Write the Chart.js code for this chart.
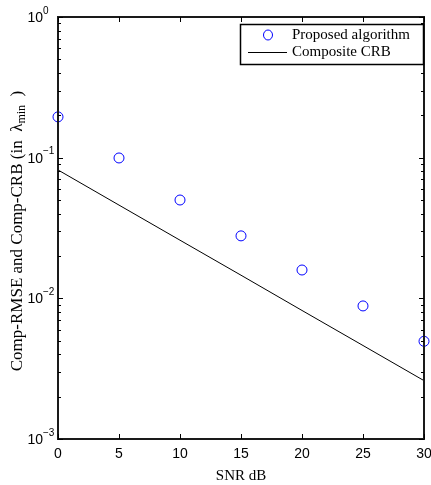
<!DOCTYPE html>
<html>
<head>
<meta charset="utf-8">
<script src="https://cdn.jsdelivr.net/npm/chart.js@4"></script>
<style>
  body { margin: 0; background: #fff; }
  canvas { display: block; }
</style>
</head>
<body>
<canvas id="crbChart" width="431" height="485"></canvas>
<script>
// Values
const snrDb = [0, 5, 10, 15, 20, 25, 30];
const proposedRmse = [0.195, 0.0995, 0.050, 0.0278, 0.0159, 0.00883, 0.00495];
const compositeCrb = [0.0818, 0.0460, 0.0259, 0.0146, 0.00820, 0.00462, 0.00260];
const xTicks = [0, 5, 10, 15, 20, 25, 30];
const yTickExps = [0, -1, -2, -3];

const serif = '"Liberation Serif", "DejaVu Serif", serif';
const sans = '"Liberation Sans", Arial, sans-serif';

// Matlab-style frame, inward ticks, labels and legend
const matlabAxes = {
    id: 'matlabAxes',
    afterDatasetsDraw(chart) {
        const ctx = chart.ctx;
        const { left, right, top, bottom } = chart.chartArea;
        const xs = chart.scales.x;
        const ys = chart.scales.y;

        ctx.save();
        ctx.strokeStyle = '#1a1a1a';
        ctx.lineWidth = 2;
        ctx.strokeRect(left, top, right - left, bottom - top);

        ctx.lineWidth = 1;
        ctx.strokeStyle = '#000';
        ctx.beginPath();
        xTicks.forEach(v => {
            const px = Math.round(xs.getPixelForValue(v)) + 0.5;
            ctx.moveTo(px, bottom); ctx.lineTo(px, bottom - 5);
            ctx.moveTo(px, top); ctx.lineTo(px, top + 5);
        });
        yTickExps.forEach(e => {
            const py = Math.round(ys.getPixelForValue(Math.pow(10, e))) + 0.5;
            ctx.moveTo(left, py); ctx.lineTo(left + 5, py);
            ctx.moveTo(right, py); ctx.lineTo(right - 5, py);
            if (e > -3) {
                for (let m = 2; m <= 9; m++) {
                    const my = Math.round(ys.getPixelForValue(m * Math.pow(10, e - 1))) + 0.5;
                    ctx.moveTo(left, my); ctx.lineTo(left + 3, my);
                    ctx.moveTo(right, my); ctx.lineTo(right - 3, my);
                }
            }
        });
        ctx.stroke();

        // tick labels
        ctx.fillStyle = '#000';
        ctx.font = '14px ' + sans;
        ctx.textAlign = 'center';
        ctx.textBaseline = 'middle';
        xTicks.forEach(v => {
            ctx.fillText(String(v), xs.getPixelForValue(v), bottom + 15);
        });
        yTickExps.forEach(e => {
            const py = ys.getPixelForValue(Math.pow(10, e));
            ctx.font = '14px ' + sans;
            ctx.textAlign = 'right';
            ctx.fillText('10', left - 15, py + 1);
            ctx.font = '10px ' + sans;
            ctx.textAlign = 'left';
            ctx.fillText(e === 0 ? '0' : '\u2212' + Math.abs(e), left - 15, py - 6);
        });

        // axis titles
        ctx.font = '15px ' + serif;
        ctx.textAlign = 'center';
        ctx.textBaseline = 'alphabetic';
        ctx.fillText('SNR dB', (left + right) / 2, bottom + 41);

        ctx.save();
        ctx.translate(22, 231);
        ctx.rotate(-Math.PI / 2);
        const mainText = 'Comp-RMSE and Comp-CRB (in  \u03bb';
        ctx.font = '17px ' + serif;
        const w1 = ctx.measureText(mainText).width;
        ctx.font = '12px ' + serif;
        const w2 = ctx.measureText('min').width;
        ctx.font = '17px ' + serif;
        const w3 = ctx.measureText('  )').width;
        const x0 = -(w1 + w2 + w3) / 2;
        ctx.textAlign = 'left';
        ctx.fillText(mainText, x0, 0);
        ctx.font = '12px ' + serif;
        ctx.fillText('min', x0 + w1, 3);
        ctx.font = '17px ' + serif;
        ctx.fillText('  )', x0 + w1 + w2, 0);
        ctx.restore();

        // legend
        const ds = chart.data.datasets;
        ctx.fillStyle = '#fff';
        ctx.fillRect(240, 24, 183, 40);
        ctx.strokeStyle = '#000';
        ctx.lineWidth = 1.5;
        ctx.strokeRect(240.5, 24.5, 183, 40);
        ctx.lineWidth = 1;
        ctx.strokeStyle = '#0000ff';
        ctx.beginPath();
        ctx.ellipse(268, 35, 4.5, 5, 0, 0, Math.PI * 2);
        ctx.stroke();
        ctx.strokeStyle = '#000';
        ctx.beginPath();
        ctx.moveTo(248, 52.5); ctx.lineTo(287, 52.5);
        ctx.stroke();
        ctx.fillStyle = '#000';
        ctx.font = '15px ' + serif;
        ctx.textAlign = 'left';
        ctx.textBaseline = 'middle';
        ctx.fillText(ds[0].label, 292, 35);
        ctx.fillText(ds[1].label, 292, 52);
        ctx.restore();
    }
};

new Chart(document.getElementById('crbChart'), {
    type: 'scatter',
    data: {
        datasets: [{
            label: 'Proposed algorithm',
            data: snrDb.map((x, i) => ({ x: x, y: proposedRmse[i] })),
            showLine: false,
            pointStyle: 'circle',
            pointRadius: 5,
            pointBorderWidth: 1,
            pointBorderColor: '#0000ff',
            pointBackgroundColor: 'rgba(0,0,0,0)',
            clip: false
        }, {
            label: 'Composite CRB',
            data: snrDb.map((x, i) => ({ x: x, y: compositeCrb[i] })),
            showLine: true,
            borderColor: '#000',
            borderWidth: 1,
            pointRadius: 0,
            clip: false
        }]
    },
    options: {
        responsive: false,
        animation: false,
        layout: { padding: { left: 58, right: 7, top: 17, bottom: 46 } },
        plugins: {
            legend: { display: false },
            tooltip: { enabled: false }
        },
        scales: {
            x: {
                type: 'linear',
                min: 0,
                max: 30,
                grid: { display: false, drawTicks: false },
                border: { display: false },
                ticks: { display: false }
            },
            y: {
                type: 'logarithmic',
                min: 0.001,
                max: 1,
                grid: { display: false, drawTicks: false },
                border: { display: false },
                ticks: { display: false }
            }
        }
    },
    plugins: [matlabAxes]
});
</script>
</body>
</html>
